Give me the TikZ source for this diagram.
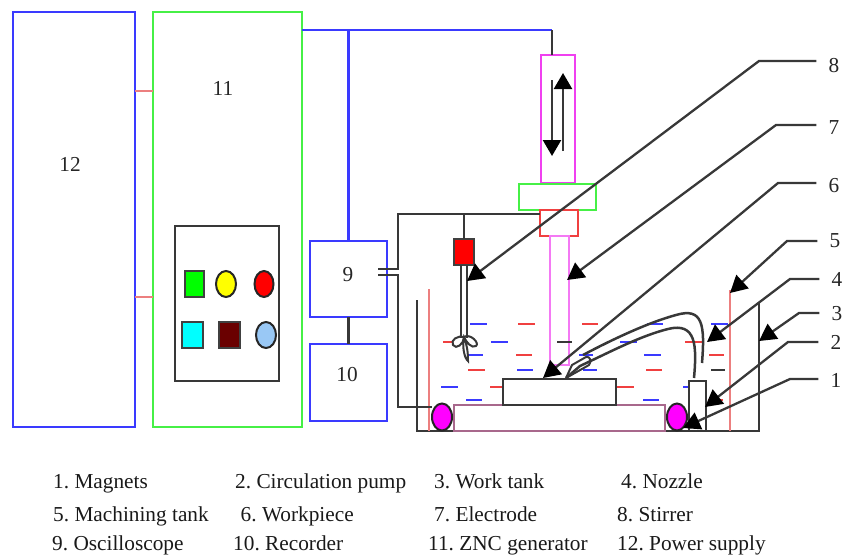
\documentclass[tikz,border=0pt]{standalone}
\usepackage{xcolor}
\usepackage{fontspec}
\setmainfont{Liberation Serif}
\frenchspacing
\usetikzlibrary{arrows.meta, positioning, shapes.geometric, calc}
\definecolor{wireblue}{HTML}{3A3AFF}
\definecolor{wiregreen}{HTML}{46F046}
\definecolor{wirepink}{HTML}{F040F0}
\definecolor{wirered}{HTML}{F04040}
\definecolor{tankred}{HTML}{EC7F7F}
\definecolor{tablemauve}{HTML}{A8688C}
\definecolor{wireblack}{HTML}{383838}
\definecolor{btngreen}{HTML}{00FF00}
\definecolor{btnyellow}{HTML}{FFFF00}
\definecolor{btnred}{HTML}{FF0000}
\definecolor{btncyan}{HTML}{00FFFF}
\definecolor{btnmaroon}{HTML}{6A0000}
\definecolor{btnsky}{HTML}{99C8F5}
\definecolor{magnetfill}{HTML}{FF00FF}
\tikzset{
    boxed/.style 2 args={draw, rectangle, inner sep=0pt, outer sep=0pt, line width=2.8pt,
        minimum width=#1, minimum height=#2},
    oval/.style 2 args={draw=black!85, ellipse, inner sep=0pt, outer sep=0pt, line width=2pt,
        minimum width=#1, minimum height=#2},
    swatch/.style 2 args={draw=black!75, rectangle, inner sep=0pt, outer sep=0pt, line width=2pt,
        minimum width=#1, minimum height=#2},
    wire/.style={wireblack, line width=2.5pt},
    bluewire/.style={wireblue, line width=2.8pt},
    redwire/.style={tankred, line width=2.5pt},
    leader/.style={wireblack, line width=2.3pt, -{Triangle[length=17pt, width=18pt, color=black]}},
    updown/.style={wireblack, line width=2.3pt, -{Triangle[length=16pt, width=18pt, color=black]}},
    numlab/.style={font=\fontsize{21.3}{24}\selectfont, text=black!85, inner ysep=0pt, inner xsep=12pt},
    legend/.style={font=\fontsize{21.3}{24}\selectfont, text=black!90, anchor=base west, inner sep=0pt},
    dashred/.style={wirered, line width=2.6pt},
    dashblue/.style={wireblue, line width=2.6pt},
    dashblack/.style={wireblack, line width=2.6pt},
}

\begin{document}
\begin{tikzpicture}[x=1pt, y=-1pt]
    \useasboundingbox (0,0) rectangle (851,554);

    % control cabinet side
    \node[boxed={122}{415}, draw=wireblue] (power) at (74,219.5) {};
    \node[boxed={149}{415}, draw=wiregreen] (zncgen) at (227.5,219.5) {};
    \node[boxed={104}{155}, draw=wireblack] (panel) at (227,303.5) {};
    \node[numlab] (num12) at (70,164) {12};
    \node[numlab] (num11) at (223,88) {11};

    \node[swatch={19}{26}, fill=btngreen] (btnA) at (194.5,284) {};
    \node[oval={20}{26}, fill=btnyellow] (btnB) at (226,284) {};
    \node[oval={19}{26}, fill=btnred] (btnC) at (264,284) {};
    \node[swatch={21}{26}, fill=btncyan] (btnD) at (192.5,335) {};
    \node[swatch={21}{26}, fill=btnmaroon] (btnE) at (229.5,335) {};
    \node[oval={20}{26}, fill=btnsky] (btnF) at (266,335) {};

    \node[boxed={77}{76}, draw=wireblue] (oscillo) at (348.5,279) {};
    \node[boxed={77}{77}, draw=wireblue] (recorder) at (348.5,382.5) {};
    \node[numlab] (num9) at (348,275) {9};
    \node[numlab] (num10) at (347,375) {10};

    \draw[redwire] (power.east |- 0,91) -- (zncgen.west |- 0,91);
    \draw[redwire] (power.east |- 0,297) -- (zncgen.west |- 0,297);

    % electrode column
    \node[boxed={34}{128}, draw=wirepink] (head) at (558,119) {};
    \node[boxed={77}{26}, draw=wiregreen] (clampG) at (557.5,197) {};
    \node[boxed={38}{26}, draw=wirered] (clampR) at (559,223) {};
    \node[boxed={19}{129}, draw=wirepink!70!white] (electrode) at (559.5,300.5) {};

    \coordinate (top) at (552,30);
    \draw[bluewire] (zncgen.east |- top) -- (top);
    \draw[bluewire] (oscillo.north) -- (oscillo.north |- top);
    \draw[wire] (top) -- (top |- head.north);
    \draw[wire] (oscillo.south) -- (recorder.north);

    \draw[updown] (552,80) -- (552,156);
    \draw[updown] (563,151) -- (563,73);

    % work tank
    \draw[wire] (417,300) |- (759,431) -- (759,303);
    \draw[redwire] (429,289) -- (429,431);
    \draw[redwire] (730,290) -- (730,431);

    % dielectric
    \draw[dashblue] (470,324) -- (487,324) (647,324) -- (663,324) (711,324) -- (728,324)
        (491,342) -- (508,342) (620,342) -- (637,342)
        (468,355) -- (483,355) (579,355) -- (593,355) (644,355) -- (661,355)
        (517,370) -- (533,370) (583,370) -- (597,370)
        (441,387) -- (458,387) (683,387) -- (689,387)
        (466,400) -- (482,400) (643,400) -- (659,400);
    \draw[dashred] (518,324) -- (535,324) (582,324) -- (598,324)
        (443,342) -- (452,342) (685,342) -- (702,342)
        (516,355) -- (532,355) (709,355) -- (724,355)
        (468,370) -- (485,370) (646,370) -- (662,370)
        (490,387) -- (502,387) (617,387) -- (634,387)
        (708,400) -- (723,400);
    \draw[dashblack] (557,342) -- (572,342) (711,370) -- (725,370);

    \node[boxed={211}{26}, draw=tablemauve, fill=white] (tablebase) at (559.5,418) {};
    \node[boxed={113}{26}, draw=wireblack, fill=white] (workpiece) at (559.5,392) {};
    \node[boxed={17}{50}, draw=wireblack, fill=white] (pump) at (697.5,406) {};
    \node[oval={20}{27}, fill=magnetfill] (magnetL) at (442,417) {};
    \node[oval={20}{27}, fill=magnetfill] (magnetR) at (677,417) {};

    % wires to the gap
    \coordinate (termA) at (378,269);
    \coordinate (termB) at (378,275);
    \draw[wire] (termA) -- (398,269) -- (398,214) -- (clampR.west |- 398,214);
    \draw[wire] (termB) -- (398,275) -- (398,407) -- (magnetL.west |- 398,407);

    % stirrer
    \node[swatch={20}{26}, fill=btnred] (motor) at (464,252) {};
    \draw[wire] (motor.north |- 398,214) -- (motor.north);
    \draw[wire] (461,265) -- (461,338) (467,265) -- (467,338);
    \draw[wire, line width=2pt] (464,337) .. controls (458,335) and (450,340) .. (453,345)
        .. controls (456,350) and (464,344) .. (464,337)
        .. controls (470,333) and (480,343) .. (476,346) .. controls (472,349) and (466,342) .. (464,337)
        .. controls (462,345) and (464,358) .. (468,361) .. controls (468,352) and (467,345) .. (464,337);

    % nozzle pipes
    \draw[wire] (702,363) .. controls (705,325) and (703,307) .. (676,315)
        .. controls (650,322) and (615,338) .. (583,355);
    \draw[wire] (694,378) .. controls (697,345) and (696,322) .. (668,329)
        .. controls (640,336) and (610,352) .. (580,366) -- (566,378);
    \draw[wire, line width=2pt] (566,378) -- (572,365) -- (586,357) .. controls (590,356) and (592,361) .. (589,365) -- (566,378);

    % leaders
    \node[numlab] (num8) at (834,66) {8};
    \node[numlab] (num7) at (834,128) {7};
    \node[numlab] (num6) at (834,186) {6};
    \node[numlab] (num5) at (835,241) {5};
    \node[numlab] (num4) at (837,279) {4};
    \node[numlab] (num3) at (837,314) {3};
    \node[numlab] (num2) at (836,342) {2};
    \node[numlab] (num1) at (836,380) {1};

    \coordinate (knee8) at (759,61);
    \coordinate (knee7) at (776,125);
    \coordinate (knee6) at (778,183);
    \coordinate (knee5) at (787,241);
    \coordinate (knee4) at (790,279);
    \coordinate (knee3) at (799,313);
    \coordinate (knee2) at (788,342);
    \coordinate (knee1) at (790,379);

    \draw[leader] (num8.west |- knee8) -- (knee8) -- (467,281);
    \draw[leader] (num7.west |- knee7) -- (knee7) -- (567,280);
    \draw[leader] (num6.west |- knee6) -- (knee6) -- (543,378);
    \draw[leader] (num5.west |- knee5) -- (knee5) -- (730,293);
    \draw[leader] (num4.west |- knee4) -- (knee4) -- (707,342);
    \draw[leader] (num3.west |- knee3) -- (knee3) -- (759,341);
    \draw[leader] (num2.west |- knee2) -- (knee2) -- (705,407);
    \draw[leader] (num1.west |- knee1) -- (knee1) -- (683,428);

    % legend
    \node[legend] (leg1) at (53,488) {1. Magnets};
    \node[legend] (leg2) at (235,488) {2. Circulation pump};
    \node[legend] (leg3) at (434,488) {3. Work tank};
    \node[legend] (leg4) at (621,488) {4. Nozzle};
    \node[legend] (leg5) at (53,521) {5. Machining tank};
    \node[legend] (leg6) at (240.5,521) {6. Workpiece};
    \node[legend] (leg7) at (434,521) {7. Electrode};
    \node[legend] (leg8) at (617,521) {8. Stirrer};
    \node[legend] (leg9) at (52,550) {9. Oscilloscope};
    \node[legend] (leg10) at (233,550) {10. Recorder};
    \node[legend] (leg11) at (428,550) {11. ZNC generator};
    \node[legend] (leg12) at (617,550) {12. Power supply};
\end{tikzpicture}
\end{document}
